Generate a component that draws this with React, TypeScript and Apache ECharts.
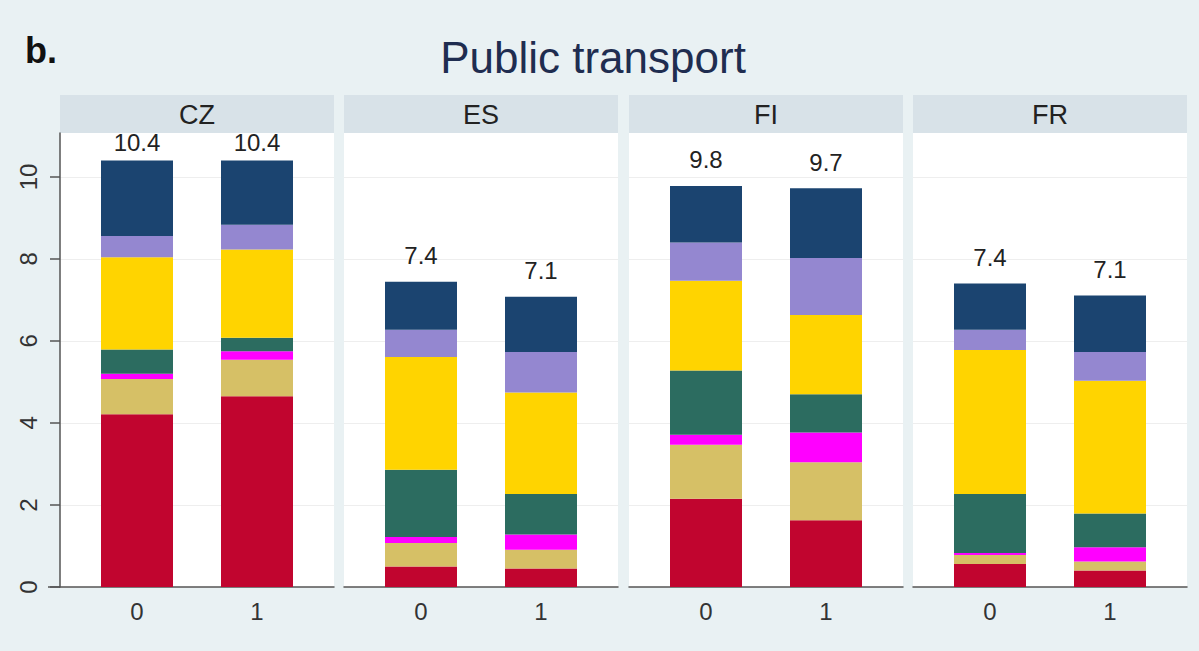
import React, { useEffect, useRef } from "react";
import * as echarts from "echarts";

// Panels (countries) and the two groups shown in each panel
const countries = ["CZ", "ES", "FI", "FR"];
const groups = ["0", "1"];

// Segment values, stacked bottom to top.
// Order in each array: CZ-0, CZ-1, ES-0, ES-1, FI-0, FI-1, FR-0, FR-1
const seg1 = [4.21, 4.65, 0.5, 0.45, 2.15, 1.63, 0.56, 0.4];
const seg2 = [0.86, 0.89, 0.57, 0.46, 1.32, 1.41, 0.22, 0.22];
const seg3 = [0.13, 0.21, 0.15, 0.37, 0.24, 0.73, 0.05, 0.35];
const seg4 = [0.59, 0.33, 1.64, 0.99, 1.57, 0.93, 1.44, 0.82];
const seg5 = [2.25, 2.15, 2.75, 2.47, 2.19, 1.93, 3.51, 3.24];
const seg6 = [0.52, 0.6, 0.66, 0.99, 0.93, 1.39, 0.49, 0.7];
const seg7 = [1.84, 1.57, 1.17, 1.35, 1.38, 1.7, 1.13, 1.38];

const segmentNames = ["Segment 1", "Segment 2", "Segment 3", "Segment 4", "Segment 5", "Segment 6", "Segment 7"];
const segmentValues = [seg1, seg2, seg3, seg4, seg5, seg6, seg7];
const segmentColors = ["#c1052f", "#d6c066", "#ff00ff", "#2c6c60", "#ffd400", "#9487d0", "#1b4470"];

const yTicks = [0, 2, 4, 6, 8, 10];

const FONT = "'Liberation Sans', Arial, sans-serif";
const PANEL_LEFT = [60, 344, 629, 913];
const PANEL_W = 274;
const BAR_INSET = 17; // bar grid sits inside the panel so bar centres land 120px apart
const PLOT_TOP = 133;
const PLOT_H = 454;
const STRIP_TOP = 95;
const STRIP_H = 38;
const Y_MAX = 11.07;
const AXIS_COLOR = "#555555";

function total(panel: number, groupIdx: number): number {
  let s = 0;
  for (const arr of segmentValues) s += arr[panel * 2 + groupIdx];
  return s;
}

export default function App() {
  const ref = useRef<HTMLDivElement>(null);

  useEffect(() => {
    if (!ref.current) return;
    const chart = echarts.init(ref.current, null, { renderer: "svg" });
    const n = countries.length;

    // Grids 0..3: panel backgrounds with grid lines and axis lines.
    // Grids 4..7: the bars themselves.
    const grids: any[] = [];
    const xAxes: any[] = [];
    const yAxes: any[] = [];

    countries.forEach((_, i) => {
      grids.push({
        left: PANEL_LEFT[i],
        top: PLOT_TOP,
        width: PANEL_W,
        height: PLOT_H,
        show: true,
        backgroundColor: "#ffffff",
        borderWidth: 0,
      });
      xAxes.push({
        type: "value",
        gridIndex: i,
        min: 0,
        max: 1,
        axisLine: { show: true, onZero: false, lineStyle: { color: AXIS_COLOR, width: 1.5 } },
        axisTick: { show: false },
        axisLabel: { show: false },
        splitLine: { show: false },
      });
      yAxes.push({
        type: "value",
        gridIndex: i,
        min: 0,
        max: Y_MAX,
        interval: 2,
        axisLine: { show: i === 0, onZero: false, lineStyle: { color: AXIS_COLOR, width: 1.5 } },
        axisTick: {
          show: i === 0,
          customValues: yTicks,
          length: 10,
          lineStyle: { color: AXIS_COLOR, width: 1.5 },
        },
        axisLabel: {
          show: i === 0,
          customValues: yTicks,
          rotate: 90,
          margin: 20,
          fontSize: 24,
          color: "#333333",
          fontFamily: FONT,
        },
        splitLine: { show: true, lineStyle: { color: "#eeeeee", width: 1 } },
      });
    });

    countries.forEach((_, i) => {
      grids.push({
        left: PANEL_LEFT[i] + BAR_INSET,
        top: PLOT_TOP,
        width: PANEL_W - 2 * BAR_INSET,
        height: PLOT_H,
        show: false,
      });
      xAxes.push({
        type: "category",
        gridIndex: n + i,
        data: groups,
        axisLine: { show: false },
        axisTick: { show: false },
        splitLine: { show: false },
        axisLabel: {
          fontSize: 24,
          color: "#333333",
          fontFamily: FONT,
          margin: 12,
        },
      });
      yAxes.push({
        type: "value",
        gridIndex: n + i,
        min: 0,
        max: Y_MAX,
        show: false,
      });
    });

    const series: any[] = [];
    countries.forEach((_, p) => {
      segmentValues.forEach((vals, s) => {
        const isTop = s === segmentValues.length - 1;
        series.push({
          type: "bar",
          name: segmentNames[s],
          xAxisIndex: n + p,
          yAxisIndex: n + p,
          stack: "panel" + p,
          barWidth: 72,
          itemStyle: { color: segmentColors[s] },
          data: groups.map((_, g) => vals[p * 2 + g]),
          label: isTop
            ? {
                show: true,
                position: "top",
                distance: p === 0 ? 6 : 14,
                fontSize: 24,
                color: "#222222",
                fontFamily: FONT,
                formatter: (prm: any) => total(p, prm.dataIndex).toFixed(1),
              }
            : { show: false },
        });
      });
    });

    const graphics: any[] = [
      {
        type: "text",
        left: 25,
        top: 32,
        style: { text: "b.", fontSize: 36, fontWeight: "bold", fill: "#111111", fontFamily: FONT },
      },
      {
        type: "text",
        x: 593,
        y: 57,
        style: {
          text: "Public transport",
          fontSize: 44,
          fill: "#1f2d50",
          fontFamily: FONT,
          align: "center",
          verticalAlign: "middle",
        },
      },
      // x-axis line of the first panel runs on under the y-axis ticks
      {
        type: "line",
        shape: { x1: 48, y1: PLOT_TOP + PLOT_H, x2: PANEL_LEFT[0], y2: PLOT_TOP + PLOT_H },
        style: { stroke: AXIS_COLOR, lineWidth: 1.5 },
      },
    ];
    countries.forEach((c, i) => {
      graphics.push({
        type: "rect",
        shape: { x: PANEL_LEFT[i], y: STRIP_TOP, width: PANEL_W, height: STRIP_H },
        style: { fill: "#d8e2e8" },
      });
      graphics.push({
        type: "text",
        x: PANEL_LEFT[i] + PANEL_W / 2,
        y: STRIP_TOP + STRIP_H / 2 + 1,
        style: {
          text: c,
          fontSize: 27,
          fill: "#222222",
          fontFamily: FONT,
          align: "center",
          verticalAlign: "middle",
        },
      });
    });

    chart.setOption({
      animation: false,
      backgroundColor: "#e9f1f3",
      grid: grids,
      xAxis: xAxes,
      yAxis: yAxes,
      series,
      graphic: graphics,
    });

    return () => chart.dispose();
  }, []);

  return (
    <div
      ref={ref}
      style={{ position: "fixed", left: 0, top: 0, width: 1199, height: 651 }}
    />
  );
}
